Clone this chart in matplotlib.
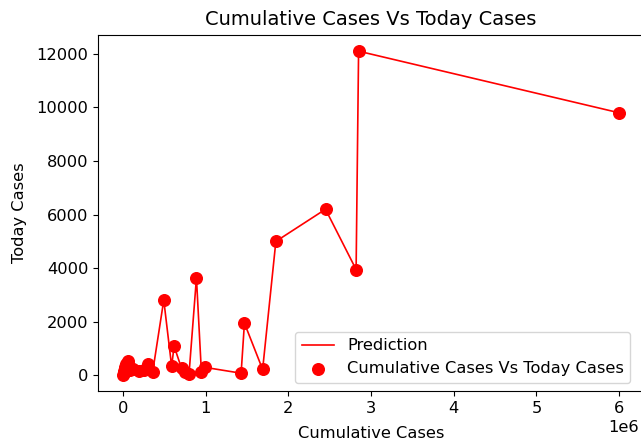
import matplotlib
matplotlib.use("Agg")
import matplotlib.pyplot as plt

cumulative = [0.0e6, 0.01e6, 0.02e6, 0.03e6, 0.04e6, 0.06e6, 0.07e6, 0.09e6, 0.12e6,
              0.19e6, 0.25e6, 0.31e6, 0.36e6, 0.495e6, 0.59e6, 0.62e6, 0.71e6, 0.75e6,
              0.80e6, 0.89e6, 0.95e6, 0.99e6, 1.43e6, 1.47e6, 1.69e6, 1.85e6, 2.45e6,
              2.82e6, 2.85e6, 6.0e6]
today = [20, 80, 150, 300, 420, 520, 350, 200, 250,
         150, 200, 440, 110, 2810, 340, 1090, 260, 120,
         40, 3640, 110, 300, 80, 1950, 220, 5000, 6200,
         3950, 12100, 9800]

plt.rcParams.update({"font.size": 11.7, "axes.titlesize": 14, "axes.labelsize": 11.7,
                     "xtick.labelsize": 11.7, "ytick.labelsize": 11.7, "legend.fontsize": 11.7})

fig = plt.figure(figsize=(6.41, 4.45), dpi=100)
ax = fig.add_axes([98/641, 1 - 391/445, (644 - 98)/641, (391 - 35)/445])
ax.plot(cumulative, today, color="red", linewidth=1.2, label="Prediction")
ax.scatter(cumulative, today, color="red", s=70, label="Cumulative Cases Vs Today Cases")
ax.set_title("Cumulative Cases Vs Today Cases", pad=7)
ax.set_xlabel("Cumulative Cases", labelpad=7.5)
ax.set_ylabel("Today Cases", labelpad=6.5)
ax.legend(loc="lower right", bbox_to_anchor=(0.99, 0.0))
ax.xaxis.get_offset_text().set_x(1 - 5/546)
fig.savefig("out.png", dpi=100)
